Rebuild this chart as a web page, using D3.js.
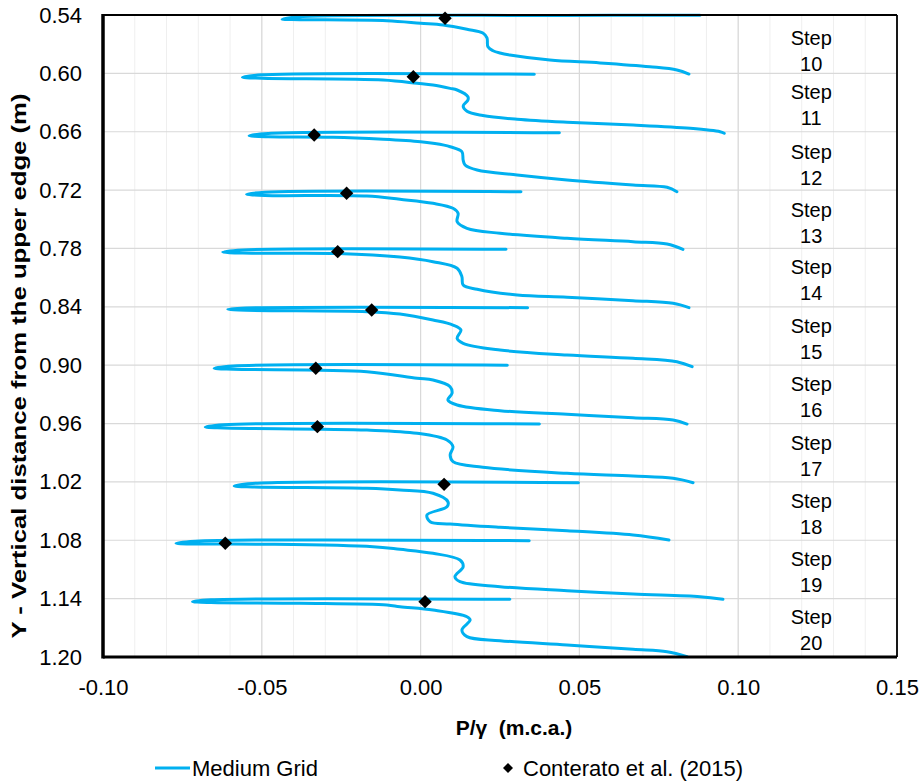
<!DOCTYPE html>
<html>
<head>
<meta charset="utf-8">
<script src="https://cdnjs.cloudflare.com/ajax/libs/d3/7.8.5/d3.min.js"></script>
<style>
  body { margin: 0; background: #fff; }
  text { font-family: Arial, "Liberation Sans", sans-serif; fill: #000; }
</style>
</head>
<body>
<div id="chart"></div>
<script>
// Medium Grid pressure profiles, one array per step: [P/gamma, Y]
const step10 = [[0.0880, 0.5402], [0.0450, 0.5405], [-0.0380, 0.5417], [-0.0436, 0.5444], [-0.0380, 0.5448], [-0.0106, 0.5459], [0.0000, 0.5485], [0.0071, 0.5503], [0.0146, 0.5547], [0.0196, 0.5585], [0.0209, 0.5636], [0.0212, 0.5726], [0.0228, 0.5767], [0.0250, 0.5791], [0.0281, 0.5811], [0.0407, 0.5863], [0.0565, 0.5893], [0.0722, 0.5932], [0.0807, 0.5965], [0.0845, 0.6007]];
const step11 = [[0.0358, 0.6008], [-0.0500, 0.6015], [-0.0561, 0.6040], [-0.0500, 0.6050], [-0.0118, 0.6068], [-0.0011, 0.6102], [0.0039, 0.6120], [0.0093, 0.6154], [0.0115, 0.6171], [0.0149, 0.6240], [0.0149, 0.6274], [0.0134, 0.6336], [0.0146, 0.6390], [0.0196, 0.6433], [0.0304, 0.6472], [0.0461, 0.6503], [0.0669, 0.6531], [0.0849, 0.6565], [0.0943, 0.6600], [0.0956, 0.6616]];
const step12 = [[0.0437, 0.6610], [-0.0480, 0.6618], [-0.0540, 0.6641], [-0.0480, 0.6652], [-0.0276, 0.6657], [-0.0118, 0.6678], [0.0000, 0.6703], [0.0039, 0.6719], [0.0093, 0.6754], [0.0130, 0.6805], [0.0134, 0.6891], [0.0140, 0.6942], [0.0178, 0.6994], [0.0304, 0.7045], [0.0461, 0.7096], [0.0669, 0.7148], [0.0776, 0.7171], [0.0807, 0.7217]];
const step13 = [[0.0316, 0.7217], [-0.0490, 0.7222], [-0.0548, 0.7243], [-0.0490, 0.7255], [-0.0169, 0.7261], [-0.0065, 0.7295], [0.0039, 0.7336], [0.0102, 0.7387], [0.0118, 0.7439], [0.0115, 0.7525], [0.0146, 0.7593], [0.0250, 0.7644], [0.0461, 0.7696], [0.0669, 0.7731], [0.0776, 0.7754], [0.0826, 0.7809]];
const step14 = [[0.0269, 0.7809], [-0.0560, 0.7815], [-0.0623, 0.7836], [-0.0560, 0.7848], [-0.0260, 0.7852], [-0.0065, 0.7888], [0.0039, 0.7936], [0.0115, 0.8004], [0.0130, 0.8090], [0.0134, 0.8176], [0.0178, 0.8220], [0.0304, 0.8279], [0.0461, 0.8302], [0.0669, 0.8337], [0.0795, 0.8364], [0.0845, 0.8409]];
const step15 = [[0.0337, 0.8409], [-0.0550, 0.8413], [-0.0607, 0.8426], [-0.0550, 0.8436], [-0.0169, 0.8450], [-0.0065, 0.8474], [0.0039, 0.8536], [0.0102, 0.8587], [0.0127, 0.8638], [0.0115, 0.8724], [0.0134, 0.8775], [0.0250, 0.8844], [0.0461, 0.8895], [0.0669, 0.8929], [0.0807, 0.8964], [0.0855, 0.9016]];
const step16 = [[0.0273, 0.9000], [-0.0590, 0.9008], [-0.0650, 0.9032], [-0.0590, 0.9042], [-0.0169, 0.9067], [-0.0011, 0.9135], [0.0039, 0.9152], [0.0093, 0.9221], [0.0099, 0.9289], [0.0086, 0.9358], [0.0115, 0.9409], [0.0250, 0.9468], [0.0461, 0.9505], [0.0669, 0.9540], [0.0795, 0.9564], [0.0839, 0.9605]];
const step17 = [[0.0374, 0.9605], [-0.0620, 0.9612], [-0.0678, 0.9636], [-0.0620, 0.9645], [-0.0169, 0.9667], [-0.0011, 0.9700], [0.0083, 0.9769], [0.0102, 0.9838], [0.0093, 0.9923], [0.0102, 0.9992], [0.0196, 1.0050], [0.0461, 1.0112], [0.0669, 1.0139], [0.0795, 1.0163], [0.0858, 1.0208]];
const step18 = [[0.0497, 1.0208], [-0.0530, 1.0216], [-0.0587, 1.0242], [-0.0530, 1.0252], [-0.0169, 1.0266], [-0.0065, 1.0283], [0.0039, 1.0317], [0.0086, 1.0404], [0.0083, 1.0455], [0.0020, 1.0540], [0.0030, 1.0609], [0.0093, 1.0633], [0.0250, 1.0667], [0.0461, 1.0702], [0.0669, 1.0746], [0.0782, 1.0797]];
const step19 = [[0.0342, 1.0804], [-0.0710, 1.0810], [-0.0770, 1.0831], [-0.0710, 1.0838], [-0.0484, 1.0841], [-0.0150, 1.0866], [-0.0065, 1.0893], [0.0039, 1.0934], [0.0124, 1.1003], [0.0134, 1.1072], [0.0108, 1.1175], [0.0124, 1.1226], [0.0250, 1.1277], [0.0461, 1.1319], [0.0669, 1.1353], [0.0880, 1.1380], [0.0952, 1.1407]];
const step20 = [[0.0281, 1.1407], [-0.0660, 1.1412], [-0.0718, 1.1431], [-0.0660, 1.1440], [-0.0380, 1.1448], [-0.0106, 1.1465], [-0.0065, 1.1483], [0.0039, 1.1517], [0.0146, 1.1586], [0.0156, 1.1620], [0.0130, 1.1722], [0.0146, 1.1791], [0.0250, 1.1832], [0.0461, 1.1876], [0.0669, 1.1921], [0.0776, 1.1945], [0.0839, 1.1996]];
const mediumGrid = [step10, step11, step12, step13, step14, step15, step16, step17, step18, step19, step20];

// Conterato et al. (2015) points
const conteratoP = [0.0077, -0.0023, -0.0335, -0.0233, -0.0261, -0.0154, -0.0330, -0.0325, 0.0074, -0.0615, 0.0014];
const conteratoY = [0.5434, 0.6034, 0.6634, 0.7233, 0.7833, 0.8433, 0.9032, 0.9632, 1.0225, 1.0831, 1.1431];

// Step annotations
const stepNames = ["10", "11", "12", "13", "14", "15", "16", "17", "18", "19", "20"];
const stepLabelY = [0.5636, 0.6191, 0.6808, 0.7404, 0.7990, 0.8597, 0.9193, 0.9799, 1.0396, 1.0992, 1.1588];
const stepLabelP = 0.123;

const xTicks = [-0.10, -0.05, 0.00, 0.05, 0.10, 0.15];
const yTicks = [0.54, 0.60, 0.66, 0.72, 0.78, 0.84, 0.90, 0.96, 1.02, 1.08, 1.14, 1.20];

const margin = { top: 15, right: 25, bottom: 127, left: 103 };
const width = 922 - margin.left - margin.right;
const height = 784 - margin.top - margin.bottom;
const lineColor = "#00b0f0";

const svg = d3.select("#chart")
    .append("svg")
    .attr("width", 922)
    .attr("height", 784);

const g = svg.append("g")
    .attr("transform", `translate(${margin.left},${margin.top})`);

const x = d3.scaleLinear().domain([-0.10, 0.15]).range([0, width]);
const y = d3.scaleLinear().domain([0.54, 1.20]).range([0, height]);

// minor vertical gridlines every 0.01
g.append("g").selectAll("line")
    .data(x.ticks(25))
    .enter().append("line")
    .attr("x1", d => x(d)).attr("x2", d => x(d))
    .attr("y1", 0).attr("y2", height)
    .style("stroke", "#efefef")
    .style("stroke-width", 1);

// major gridlines
g.append("g").selectAll("line")
    .data(xTicks)
    .enter().append("line")
    .attr("x1", d => x(d)).attr("x2", d => x(d))
    .attr("y1", 0).attr("y2", height)
    .style("stroke", "#d9d9d9")
    .style("stroke-width", 1.2);

g.append("g").selectAll("line")
    .data(yTicks)
    .enter().append("line")
    .attr("x1", 0).attr("x2", width)
    .attr("y1", d => y(d)).attr("y2", d => y(d))
    .style("stroke", "#d9d9d9")
    .style("stroke-width", 1.2);

// Medium Grid curves
const line = d3.line()
    .x(d => x(d[0]))
    .y(d => y(d[1]))
    .curve(d3.curveCatmullRom.alpha(0.5));

g.append("g").selectAll("path")
    .data(mediumGrid)
    .enter().append("path")
    .attr("d", line)
    .style("fill", "none")
    .style("stroke", lineColor)
    .style("stroke-width", 3)
    .style("stroke-linecap", "round")
    .style("stroke-linejoin", "round");

// diamonds
const diamond = d3.symbol().type(d3.symbolSquare).size(90);
g.append("g").selectAll("path")
    .data(conteratoP)
    .enter().append("path")
    .attr("d", diamond)
    .attr("transform", (d, i) => `translate(${x(d)},${y(conteratoY[i])}) rotate(45)`)
    .style("fill", "#000");

// step labels
const labels = g.append("g")
    .style("font-size", "20px")
    .style("text-anchor", "middle");
stepNames.forEach((s, i) => {
    labels.append("text")
        .attr("x", x(stepLabelP))
        .attr("y", y(stepLabelY[i]) + 7)
        .text("Step");
    labels.append("text")
        .attr("x", x(stepLabelP))
        .attr("y", y(stepLabelY[i]) + 33)
        .text(s);
});

// frame
g.append("line").attr("x1", 0).attr("x2", width).attr("y1", 0).attr("y2", 0)
    .style("stroke", "#000").style("stroke-width", 1.8);
g.append("line").attr("x1", width).attr("x2", width).attr("y1", 0).attr("y2", height)
    .style("stroke", "#000").style("stroke-width", 1.8);
g.append("line").attr("x1", 0).attr("x2", 0).attr("y1", -1).attr("y2", height + 1.5)
    .style("stroke", "#000").style("stroke-width", 3.5);
g.append("line").attr("x1", 0).attr("x2", width).attr("y1", height).attr("y2", height)
    .style("stroke", "#000").style("stroke-width", 3);

// axes
const xAxis = g.append("g")
    .attr("transform", `translate(0,${height})`)
    .call(d3.axisBottom(x).tickValues(xTicks).tickSize(0).tickPadding(22).tickFormat(d => d.toFixed(2)));
xAxis.select(".domain").remove();
xAxis.selectAll("text").style("font-size", "22px").style("font-family", "Arial, 'Liberation Sans', sans-serif");

const yAxis = g.append("g")
    .call(d3.axisLeft(y).tickValues(yTicks).tickSize(0).tickPadding(21).tickFormat(d => d.toFixed(2)));
yAxis.select(".domain").remove();
yAxis.selectAll("text").style("font-size", "22px").style("font-family", "Arial, 'Liberation Sans', sans-serif");

// axis titles
svg.append("text")
    .attr("x", 514)
    .attr("y", 735)
    .style("text-anchor", "middle")
    .style("font-size", "21px")
    .style("font-weight", "bold")
    .style("white-space", "pre")
    .text("P/γ  (m.c.a.)");

svg.append("text")
    .attr("transform", "translate(26,366) rotate(-90)")
    .attr("textLength", 545)
    .attr("lengthAdjust", "spacingAndGlyphs")
    .style("text-anchor", "middle")
    .style("font-size", "21px")
    .style("font-weight", "bold")
    .text("Y - Vertical distance from the upper edge (m)");

// legend
const legend = svg.append("g").style("font-size", "22px");
legend.append("line")
    .attr("x1", 155).attr("x2", 190).attr("y1", 768).attr("y2", 768)
    .style("stroke", lineColor).style("stroke-width", 3);
legend.append("text").attr("x", 192).attr("y", 776).text("Medium Grid");
legend.append("path")
    .attr("d", d3.symbol().type(d3.symbolSquare).size(50))
    .attr("transform", "translate(508,768) rotate(45)")
    .style("fill", "#000");
legend.append("text").attr("x", 523).attr("y", 776).text("Conterato et al. (2015)");
</script>
</body>
</html>
